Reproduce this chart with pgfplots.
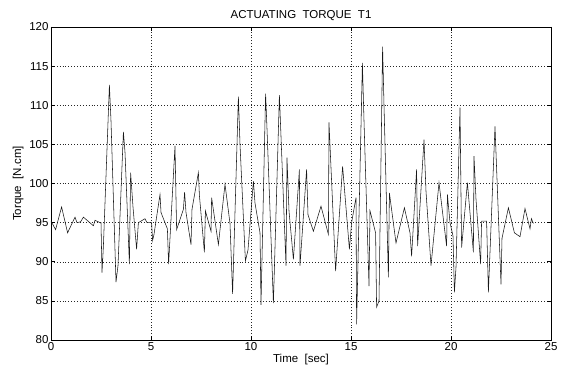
\documentclass[border=0pt]{standalone}
\usepackage{fontspec}
\setmainfont{Liberation Sans}
\usepackage{pgfplots}
\pgfplotsset{compat=1.18}
\pgfplotstableread{
t v
0.00 95.2
0.23 94.1
0.53 97.0
0.83 93.7
1.20 95.7
1.30 95.0
1.48 95.1
1.62 95.7
2.12 94.6
2.20 95.3
2.45 95.0
2.50 95.0
2.55 88.6
2.62 92.0
2.92 112.6
3.00 108.0
3.25 87.4
3.35 89.5
3.62 106.6
3.70 104.0
3.92 89.7
3.98 101.4
4.10 97.0
4.28 91.6
4.37 95.0
4.70 95.5
4.80 95.0
5.03 95.0
5.08 92.7
5.15 93.5
5.45 98.6
5.50 96.3
5.82 94.2
5.88 89.7
6.20 104.8
6.28 94.1
6.62 96.7
6.68 98.9
6.75 96.3
7.00 92.2
7.05 96.7
7.37 101.4
7.42 98.5
7.67 91.2
7.72 96.5
8.00 93.9
8.03 98.2
8.37 92.2
8.70 99.9
8.95 94.9
9.08 85.9
9.37 111.1
9.45 105.0
9.72 90.1
9.85 91.5
10.12 100.3
10.20 97.5
10.45 93.7
10.50 84.5
10.73 111.5
10.80 107.0
11.12 84.7
11.42 111.3
11.75 89.5
11.80 103.3
11.90 96.5
12.12 90.3
12.42 101.8
12.45 89.5
12.78 101.8
12.85 96.0
13.12 93.9
13.50 97.1
13.87 93.5
13.90 107.8
14.00 102.0
14.23 88.8
14.58 102.2
14.92 91.6
15.03 95.0
15.25 98.2
15.28 82.0
15.57 115.4
15.65 108.0
15.90 86.9
15.95 96.5
16.23 93.7
16.28 84.2
16.40 85.0
16.58 117.5
16.65 110.0
16.87 88.0
16.92 98.8
17.25 92.4
17.67 96.9
17.95 93.7
18.03 90.7
18.28 101.8
18.33 92.0
18.65 105.6
18.75 99.0
19.00 89.5
19.40 100.1
19.78 92.0
19.82 98.6
19.95 95.0
20.10 93.3
20.17 86.1
20.25 89.3
20.45 109.7
20.53 91.8
20.82 100.1
21.12 91.2
21.15 103.5
21.25 98.0
21.48 89.7
21.53 95.2
21.78 95.2
21.87 86.1
22.20 107.3
22.50 87.1
22.55 93.0
22.87 96.9
23.17 93.7
23.45 93.2
23.70 96.8
23.95 94.2
24.02 95.5
24.12 94.9
}\torque
\begin{document}
\begin{tikzpicture}
\begin{axis}[
 width=500pt, height=313pt, scale only axis,
 xmin=0, xmax=25, ymin=80, ymax=120,
 xtick={0,5,...,25}, ytick={80,85,...,120},
 grid=major,
 major grid style={black!85, dash pattern=on 0.9pt off 2pt, line width=0.4pt},
 axis line style={black, line width=0.6pt},
 tick align=inside, tick style={black, line width=0.5pt},
 major tick length=4pt,
 ticklabel style={font=\fontsize{11.5}{12}\selectfont},
 /pgf/number format/assume math mode=true,
 xticklabel style={yshift=1pt},
 yticklabel style={xshift=1pt},
 title={ACTUATING\ \ TORQUE\ \ T1},
 title style={font=\fontsize{11.5}{12}\selectfont, yshift=-3.5pt},
 xlabel={Time\ \ [sec]}, ylabel={Torque\ \ [N.cm]},
 label style={font=\fontsize{11.5}{12}\selectfont},
 xlabel style={yshift=3pt},
 ylabel style={yshift=-1pt},
]
\addplot[black!90, line width=0.55pt, mark=none] table[x=t, y=v] {\torque};
\end{axis}
\pgfresetboundingbox
\path ([shift={(-51pt,-34pt)}]current axis.south west) rectangle ([shift={(14pt,27pt)}]current axis.north east);
\end{tikzpicture}
\end{document}
